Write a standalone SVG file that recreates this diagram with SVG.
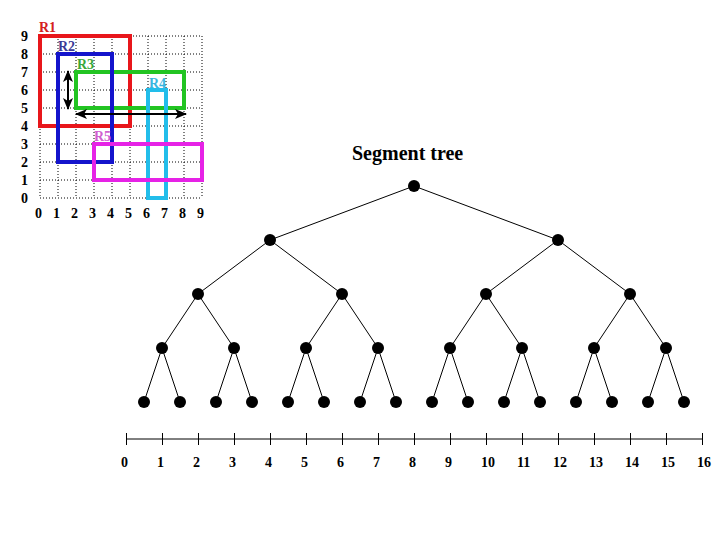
<svg xmlns="http://www.w3.org/2000/svg" width="720" height="540" viewBox="0 0 720 540">
<style>
text{font-family:"Liberation Serif","Times New Roman",serif;font-weight:bold;}
.lab{font-size:14px;fill:#000;}
.grid line{stroke:#000;stroke-width:1;stroke-dasharray:1,2;}
.rect{fill:none;stroke-width:4;}
.edge{stroke:#000;stroke-width:1;fill:none;}
.node{fill:#000;}
.arr{stroke:#000;stroke-width:2;fill:none;marker-start:url(#ah);marker-end:url(#ah);}
.axis line{stroke:#000;stroke-width:1;}
</style>
<defs>
<marker id="ah" viewBox="0 0 12 10" refX="11" refY="5" markerWidth="12" markerHeight="10" markerUnits="userSpaceOnUse" orient="auto-start-reverse">
<path d="M0,0 L12,5 L0,10 L3,5 z" fill="#000"/>
</marker>
</defs>
<rect width="720" height="540" fill="#fff"/>

<g id="grid" class="grid">
<line x1="40" y1="36" x2="40" y2="198"/><line x1="58" y1="36" x2="58" y2="198"/><line x1="76" y1="36" x2="76" y2="198"/><line x1="94" y1="36" x2="94" y2="198"/><line x1="112" y1="36" x2="112" y2="198"/><line x1="130" y1="36" x2="130" y2="198"/><line x1="148" y1="36" x2="148" y2="198"/><line x1="166" y1="36" x2="166" y2="198"/><line x1="184" y1="36" x2="184" y2="198"/><line x1="202" y1="36" x2="202" y2="198"/>
<line x1="40" y1="36" x2="202" y2="36"/><line x1="40" y1="54" x2="202" y2="54"/><line x1="40" y1="72" x2="202" y2="72"/><line x1="40" y1="90" x2="202" y2="90"/><line x1="40" y1="108" x2="202" y2="108"/><line x1="40" y1="126" x2="202" y2="126"/><line x1="40" y1="144" x2="202" y2="144"/><line x1="40" y1="162" x2="202" y2="162"/><line x1="40" y1="180" x2="202" y2="180"/><line x1="40" y1="198" x2="202" y2="198"/>
</g>
<g id="grid-labels" class="lab">
<text x="21" y="41">9</text><text x="21" y="59">8</text><text x="21" y="77">7</text><text x="21" y="95">6</text><text x="21" y="113">5</text><text x="21" y="131">4</text><text x="21" y="149">3</text><text x="21" y="167">2</text><text x="21" y="185">1</text><text x="21" y="203">0</text>
<text x="35" y="218">0</text><text x="53" y="218">1</text><text x="71" y="218">2</text><text x="89" y="218">3</text><text x="107" y="218">4</text><text x="125" y="218">5</text><text x="143" y="218">6</text><text x="161" y="218">7</text><text x="179" y="218">8</text><text x="197" y="218">9</text>
</g>

<g id="R1"><rect class="rect" x="40" y="36" width="90" height="90" stroke="#e8161b"/><text x="39" y="32" font-size="14" fill="#d42020">R1</text></g>
<g id="R3"><rect class="rect" x="76" y="72" width="108" height="36" stroke="#22c422"/><text x="77" y="69" font-size="14" fill="#3aa83a">R3</text></g>
<g id="R2"><rect class="rect" x="58" y="54" width="54" height="108" stroke="#1414cc"/><text x="58" y="51" font-size="14" fill="#3a3a96">R2</text></g>
<g id="R4"><rect class="rect" x="148" y="90" width="18" height="108" stroke="#22bdea"/><text x="149" y="88" font-size="14" fill="#3ab6e0">R4</text></g>
<g id="R5"><rect class="rect" x="94" y="144" width="108" height="36" stroke="#e622e6"/><text x="94" y="141" font-size="14" fill="#d060d0">R5</text></g>

<g id="arrows">
<line class="arr" x1="68" y1="71" x2="68" y2="109"/>
<line class="arr" x1="76" y1="114" x2="186" y2="114"/>
</g>

<text id="title" x="352" y="160" font-size="20" fill="#000">Segment tree</text>

<g id="connectors" class="edge">
<line x1="414" y1="186" x2="270" y2="240"/><line x1="414" y1="186" x2="558" y2="240"/>
<line x1="270" y1="240" x2="198" y2="294"/><line x1="270" y1="240" x2="342" y2="294"/><line x1="558" y1="240" x2="486" y2="294"/><line x1="558" y1="240" x2="630" y2="294"/>
<line x1="198" y1="294" x2="162" y2="348"/><line x1="198" y1="294" x2="234" y2="348"/><line x1="342" y1="294" x2="306" y2="348"/><line x1="342" y1="294" x2="378" y2="348"/><line x1="486" y1="294" x2="450" y2="348"/><line x1="486" y1="294" x2="522" y2="348"/><line x1="630" y1="294" x2="594" y2="348"/><line x1="630" y1="294" x2="666" y2="348"/>
<line x1="162" y1="348" x2="144" y2="402"/><line x1="162" y1="348" x2="180" y2="402"/><line x1="234" y1="348" x2="216" y2="402"/><line x1="234" y1="348" x2="252" y2="402"/><line x1="306" y1="348" x2="288" y2="402"/><line x1="306" y1="348" x2="324" y2="402"/><line x1="378" y1="348" x2="360" y2="402"/><line x1="378" y1="348" x2="396" y2="402"/><line x1="450" y1="348" x2="432" y2="402"/><line x1="450" y1="348" x2="468" y2="402"/><line x1="522" y1="348" x2="504" y2="402"/><line x1="522" y1="348" x2="540" y2="402"/><line x1="594" y1="348" x2="576" y2="402"/><line x1="594" y1="348" x2="612" y2="402"/><line x1="666" y1="348" x2="648" y2="402"/><line x1="666" y1="348" x2="684" y2="402"/>
</g>

<g id="n-root"><circle class="node" cx="414" cy="186" r="6"/></g>
<g id="n-1a"><circle class="node" cx="270" cy="240" r="6"/></g>
<g id="n-1b"><circle class="node" cx="558" cy="240" r="6"/></g>
<g id="n-2a"><circle class="node" cx="198" cy="294" r="6"/></g>
<g id="n-2b"><circle class="node" cx="342" cy="294" r="6"/></g>
<g id="n-2c"><circle class="node" cx="486" cy="294" r="6"/></g>
<g id="n-2d"><circle class="node" cx="630" cy="294" r="6"/></g>
<g id="n-3a"><circle class="node" cx="162" cy="348" r="6"/></g>
<g id="n-3b"><circle class="node" cx="234" cy="348" r="6"/></g>
<g id="n-3c"><circle class="node" cx="306" cy="348" r="6"/></g>
<g id="n-3d"><circle class="node" cx="378" cy="348" r="6"/></g>
<g id="n-3e"><circle class="node" cx="450" cy="348" r="6"/></g>
<g id="n-3f"><circle class="node" cx="522" cy="348" r="6"/></g>
<g id="n-3g"><circle class="node" cx="594" cy="348" r="6"/></g>
<g id="n-3h"><circle class="node" cx="666" cy="348" r="6"/></g>
<g id="leaf-0"><circle class="node" cx="144" cy="402" r="6"/></g>
<g id="leaf-1"><circle class="node" cx="180" cy="402" r="6"/></g>
<g id="leaf-2"><circle class="node" cx="216" cy="402" r="6"/></g>
<g id="leaf-3"><circle class="node" cx="252" cy="402" r="6"/></g>
<g id="leaf-4"><circle class="node" cx="288" cy="402" r="6"/></g>
<g id="leaf-5"><circle class="node" cx="324" cy="402" r="6"/></g>
<g id="leaf-6"><circle class="node" cx="360" cy="402" r="6"/></g>
<g id="leaf-7"><circle class="node" cx="396" cy="402" r="6"/></g>
<g id="leaf-8"><circle class="node" cx="432" cy="402" r="6"/></g>
<g id="leaf-9"><circle class="node" cx="468" cy="402" r="6"/></g>
<g id="leaf-10"><circle class="node" cx="504" cy="402" r="6"/></g>
<g id="leaf-11"><circle class="node" cx="540" cy="402" r="6"/></g>
<g id="leaf-12"><circle class="node" cx="576" cy="402" r="6"/></g>
<g id="leaf-13"><circle class="node" cx="612" cy="402" r="6"/></g>
<g id="leaf-14"><circle class="node" cx="648" cy="402" r="6"/></g>
<g id="leaf-15"><circle class="node" cx="684" cy="402" r="6"/></g>

<g id="axis" class="axis">
<line x1="126.5" y1="439" x2="702.5" y2="439"/>
<line x1="126.5" y1="433" x2="126.5" y2="445"/><line x1="162.5" y1="433" x2="162.5" y2="445"/><line x1="198.5" y1="433" x2="198.5" y2="445"/><line x1="234.5" y1="433" x2="234.5" y2="445"/><line x1="270.5" y1="433" x2="270.5" y2="445"/><line x1="306.5" y1="433" x2="306.5" y2="445"/><line x1="342.5" y1="433" x2="342.5" y2="445"/><line x1="378.5" y1="433" x2="378.5" y2="445"/><line x1="414.5" y1="433" x2="414.5" y2="445"/><line x1="450.5" y1="433" x2="450.5" y2="445"/><line x1="486.5" y1="433" x2="486.5" y2="445"/><line x1="522.5" y1="433" x2="522.5" y2="445"/><line x1="558.5" y1="433" x2="558.5" y2="445"/><line x1="594.5" y1="433" x2="594.5" y2="445"/><line x1="630.5" y1="433" x2="630.5" y2="445"/><line x1="666.5" y1="433" x2="666.5" y2="445"/><line x1="702.5" y1="433" x2="702.5" y2="445"/>
</g>
<g id="axis-labels" class="lab">
<text x="121" y="467">0</text><text x="157" y="467">1</text><text x="193" y="467">2</text><text x="229" y="467">3</text><text x="265" y="467">4</text><text x="301" y="467">5</text><text x="337" y="467">6</text><text x="373" y="467">7</text><text x="409" y="467">8</text><text x="445" y="467">9</text><text x="481" y="467">10</text><text x="517" y="467">11</text><text x="553" y="467">12</text><text x="589" y="467">13</text><text x="625" y="467">14</text><text x="661" y="467">15</text><text x="697" y="467">16</text>
</g>
</svg>
